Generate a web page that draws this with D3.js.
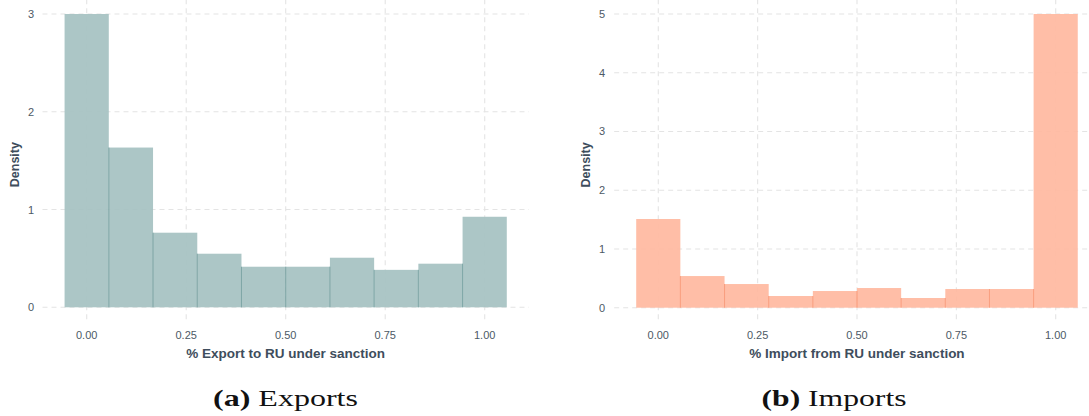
<!DOCTYPE html>
<html>
<head>
<meta charset="utf-8">
<script src="https://cdn.jsdelivr.net/npm/d3@7"></script>
<style>
  body { margin: 0; background: #fff; }
</style>
</head>
<body>
<svg id="chart" width="1089" height="416"></svg>
<script>
// histogram bins (left edges), shared by both panels
var binLefts = [-0.0556, 0.0556, 0.1667, 0.2778, 0.3889, 0.5, 0.6111, 0.7222, 0.8333, 0.9444];
var binWidth = 0.1111;

var exportDensity = [3.0, 1.634, 0.763, 0.548, 0.415, 0.415, 0.507, 0.383, 0.446, 0.926];
var importDensity = [1.51, 0.539, 0.403, 0.199, 0.284, 0.335, 0.165, 0.318, 0.318, 5.0];

var xTicks = [0, 0.25, 0.5, 0.75, 1];
var exportYTicks = [0, 1, 2, 3];
var importYTicks = [0, 1, 2, 3, 4, 5];

var sans = "'Liberation Sans', Arial, sans-serif";
var svg = d3.select("#chart");

function drawPanel(opts)
{
    var x = d3.scaleLinear().domain([0, 1]).range(opts.xRange);
    var y = d3.scaleLinear().domain([0, opts.yMax]).range(opts.yRange);
    // ggplot-style 5% expansion around the bins
    var x0 = x(-0.1111), x1 = x(1.1111);
    var yExp = opts.yMax * 0.05;
    var yTop = y(opts.yMax + yExp), yBot = y(-yExp);

    var g = svg.append("g");

    // grid
    g.selectAll(".hgrid").data(opts.yTicks).enter().append("line")
        .attr("x1", x0).attr("x2", x1)
        .attr("y1", d => y(d)).attr("y2", d => y(d))
        .attr("stroke", "#e4e4e4").attr("stroke-width", 1.1)
        .attr("stroke-dasharray", "5,4");
    g.selectAll(".vgrid").data(xTicks).enter().append("line")
        .attr("x1", d => x(d)).attr("x2", d => x(d))
        .attr("y1", yTop).attr("y2", yBot)
        .attr("stroke", "#e4e4e4").attr("stroke-width", 1.1)
        .attr("stroke-dasharray", "5,4");

    // bars
    g.selectAll(".bar").data(opts.values).enter().append("rect")
        .attr("x", (d, i) => x(binLefts[i]))
        .attr("width", (d, i) => x(binLefts[i] + binWidth) - x(binLefts[i]))
        .attr("y", d => y(d))
        .attr("height", d => y(0) - y(d))
        .attr("fill", opts.fill)
        .attr("fill-opacity", 0.92);
    // bin dividers
    g.selectAll(".edge").data(opts.values.slice(1)).enter().append("line")
        .attr("x1", (d, i) => x(binLefts[i + 1])).attr("x2", (d, i) => x(binLefts[i + 1]))
        .attr("y1", (d, i) => y(Math.min(d, opts.values[i]))).attr("y2", y(0))
        .attr("stroke", opts.edge).attr("stroke-width", 0.8);

    // tick labels
    g.selectAll(".xt").data(xTicks).enter().append("text")
        .attr("x", d => x(d)).attr("y", 339)
        .attr("text-anchor", "middle")
        .style("font-family", sans)
        .attr("font-size", 11).attr("fill", "#4d5965")
        .text(d => d3.format(".2f")(d));
    g.selectAll(".yt").data(opts.yTicks).enter().append("text")
        .attr("x", opts.yLabelX).attr("y", d => y(d) + 4)
        .attr("text-anchor", "end")
        .style("font-family", sans)
        .attr("font-size", 11).attr("fill", "#4d5965")
        .text(d => d);

    // axis titles
    g.append("text")
        .attr("x", (x0 + x1) / 2).attr("y", 358)
        .attr("text-anchor", "middle")
        .style("font-family", sans)
        .attr("font-size", 13.5).attr("font-weight", "bold").attr("fill", "#3e4d5c")
        .text(opts.xTitle);
    g.append("text")
        .attr("transform", `translate(${opts.densityX},${(yTop + yBot) / 2 + 4}) rotate(-90)`)
        .attr("text-anchor", "middle")
        .style("font-family", sans)
        .attr("font-size", 12.5).attr("font-weight", "bold").attr("fill", "#3e4d5c")
        .text("Density");

    // caption
    var cap = svg.append("text")
        .attr("x", opts.captionX - 72.5).attr("y", 406)
        .style("font-family", "'Liberation Serif', 'Times New Roman', serif")
        .attr("font-size", 24).attr("fill", "#111")
        .attr("textLength", 145).attr("lengthAdjust", "spacingAndGlyphs");
    cap.append("tspan").attr("font-weight", "bold").text(opts.captionTag);
    cap.append("tspan").text(" " + opts.caption);
}

drawPanel({
    values: exportDensity, yMax: 3, yTicks: exportYTicks,
    xRange: [86.7, 484.7], yRange: [307.3, 14],
    fill: "#a5c1c1", edge: "#6f9a9a",
    xTitle: "% Export to RU under sanction",
    yLabelX: 34, densityX: 19,
    captionX: 285.5, captionTag: "(a)", caption: "Exports"
});

drawPanel({
    values: importDensity, yMax: 5, yTicks: importYTicks,
    xRange: [658.3, 1055.7], yRange: [307.7, 14],
    fill: "#ffb8a0", edge: "#f8926f",
    xTitle: "% Import from RU under sanction",
    yLabelX: 605, densityX: 590,
    captionX: 834, captionTag: "(b)", caption: "Imports"
});
</script>
</body>
</html>
